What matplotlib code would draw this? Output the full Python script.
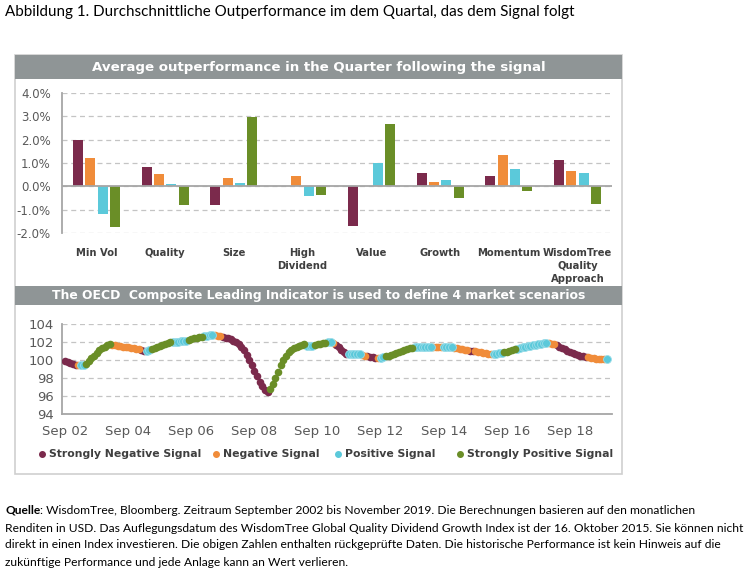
import matplotlib
matplotlib.use('Agg')
import matplotlib.pyplot as plt
from matplotlib.patches import Rectangle
from matplotlib.lines import Line2D
import numpy as np

W, H = 750, 583

# Balkendiagramm: durchschnittliche Outperformance (%)
factors = ['Min Vol', 'Quality', 'Size', 'High\nDividend', 'Value', 'Growth',
           'Momentum', 'WisdomTree\nQuality\nApproach']
signal_names = ['Strongly Negative Signal', 'Negative Signal',
                'Positive Signal', 'Strongly Positive Signal']
strong_neg = [2.00, 0.83, -0.78, 0.00, -1.68, 0.58, 0.44, 1.15]
neg = [1.23, 0.54, 0.36, 0.44, 0.00, 0.18, 1.35, 0.67]
pos = [-1.19, 0.11, 0.16, -0.43, 1.01, 0.28, 0.75, 0.58]
strong_pos = [-1.76, -0.82, 2.96, -0.38, 2.66, -0.51, -0.20, -0.77]

# OECD CLI, monatlich Sep 2002 - Nov 2019
cli = [
    99.9, 99.8, 99.7, 99.6, 99.5, 99.4, 99.4, 99.5, 99.6, 99.9, 100.2, 100.5,
    100.8, 101.1, 101.3, 101.5, 101.65, 101.75, 101.7, 101.65, 101.6, 101.55, 101.5, 101.45,
    101.4, 101.35, 101.3, 101.25, 101.2, 101.1, 101.0, 101.0, 101.1, 101.2, 101.35, 101.5,
    101.6, 101.7, 101.8, 101.9, 102.0, 102.0, 102.05, 102.05, 102.1, 102.1, 102.15, 102.2,
    102.3, 102.4, 102.5, 102.55, 102.6, 102.65, 102.7, 102.75, 102.8, 102.75, 102.7, 102.65,
    102.6, 102.5, 102.4, 102.3, 102.15, 102.0, 101.8, 101.5, 101.1, 100.6, 100.0, 99.4,
    98.8, 98.2, 97.6, 97.1, 96.7, 96.5, 96.8, 97.3, 98.0, 98.7, 99.4, 100.0,
    100.5, 100.9, 101.15, 101.35, 101.5, 101.6, 101.7, 101.75, 101.6, 101.55, 101.6, 101.7,
    101.75, 101.8, 101.85, 101.9, 101.95, 101.95, 101.85, 101.65, 101.4, 101.15, 100.9, 100.7,
    100.65, 100.65, 100.7, 100.7, 100.65, 100.6, 100.5, 100.45, 100.35, 100.3, 100.25, 100.2,
    100.25, 100.3, 100.4, 100.5, 100.6, 100.7, 100.8, 100.9, 101.0, 101.1, 101.2, 101.3,
    101.35, 101.4, 101.4, 101.4, 101.4, 101.4, 101.4, 101.4, 101.4, 101.4, 101.4, 101.4,
    101.4, 101.4, 101.4, 101.4, 101.35, 101.3, 101.25, 101.2, 101.15, 101.1, 101.05, 101.0,
    100.95, 100.9, 100.85, 100.8, 100.75, 100.7, 100.7, 100.7, 100.7, 100.75, 100.8, 100.85,
    100.9, 101.0, 101.1, 101.2, 101.25, 101.35, 101.4, 101.5, 101.55, 101.6, 101.65, 101.7,
    101.75, 101.8, 101.85, 101.9, 101.85, 101.8, 101.75, 101.65, 101.5, 101.35, 101.2, 101.05,
    100.9, 100.75, 100.65, 100.55, 100.45, 100.4, 100.35, 100.3, 100.25, 100.2, 100.15, 100.15,
    100.1, 100.1, 100.1,
]
# Signal je Monat: a=stark negativ, b=negativ, c=positiv, d=stark positiv
cli_signal = (
    'aaaaabccdddd' 'ddddddbbbbbb' 'bbbbbaaccddd' 'dddddccccccd'
    'dddddccccbbb' 'aaaaaaaaaaaa' 'aaaaaadddddd' 'ddddddddcccd'
    'ddddccbaaaaa' 'cccccbbaaaab' 'ccdddddddddd' 'dcccccccbbbb'
    'ccccbbbbbbaa' 'bbbbbbbccccd' 'ddddcccccccc' 'ccccbbbaaaaa'
    'aaaaaaabbbbb' 'bbc'
)
xtick_labels = ['Sep 02', 'Sep 04', 'Sep 06', 'Sep 08', 'Sep 10',
                'Sep 12', 'Sep 14', 'Sep 16', 'Sep 18']

colors = ['#7B2A4C', '#F08C3A', '#5BC9DA', '#6A8E27']
grey_txt = '#595959'
dark_txt = '#3F3F3F'
grid_c = '#C4C4C4'
axis_c = '#A6A6A6'
hdr_c = '#8F9596'
chart_font = 'DejaVu Sans'
doc_font = 'Lato'


def fx(x):
    return x / W


def fy(y):
    return 1 - y / H


fig = plt.figure(figsize=(W / 100, H / 100), dpi=100)
fig.patch.set_facecolor('white')
renderer = fig.canvas.get_renderer()


def fit(t, width_px):
    # Schriftgroesse so setzen, dass der Text die Breite aus dem Vorbild hat
    w = t.get_window_extent(renderer).width
    t.set_fontsize(t.get_fontsize() * width_px / w)
    return t.get_fontsize()


# Rahmen und Titelbalken
fig.add_artist(Rectangle((fx(15), fy(474)), 607 / W, 419 / H, transform=fig.transFigure,
                         facecolor='none', edgecolor='#CFCFCF', lw=1.2))
headers = [(55, 79, 'Average outperformance in the Quarter following the signal', 456),
           (286, 305, 'The OECD  Composite Leading Indicator is used to define 4 market scenarios', 535)]
for y0, y1, txt, tw in headers:
    fig.add_artist(Rectangle((fx(15), fy(y1)), 607 / W, (y1 - y0) / H,
                             transform=fig.transFigure, color=hdr_c, lw=0))
    t = fig.text(fx(319), fy((y0 + y1) / 2), txt, color='white', fontsize=10,
                 fontweight='bold', family=chart_font, ha='center', va='center')
    fit(t, tw)

# --- Balken ---
ax1 = fig.add_axes([fx(62), fy(233), 550 / W, 140 / H])
x = np.arange(len(factors))
series = [strong_neg, neg, pos, strong_pos]
for k, vals in enumerate(series):
    ax1.bar(x + (k - 1.5) * 0.18, vals, width=0.145, color=colors[k], lw=0, zorder=3)
ax1.set_xlim(-0.5, len(factors) - 0.5)
ax1.set_ylim(-2, 4)
ax1.set_yticks(np.arange(-2, 4.01, 1))
ax1.set_yticklabels(['%.1f%%' % v for v in np.arange(-2, 4.01, 1)])
ax1.set_xticks(x)
ax1.set_xticklabels(factors, fontsize=7.2, color=dark_txt, fontweight='bold',
                    family=chart_font, linespacing=1.35)
ax1.tick_params(axis='x', length=0, pad=11)
ax1.tick_params(axis='y', length=0, pad=8, labelsize=8.5, labelcolor=grey_txt)
for lab in ax1.get_yticklabels():
    lab.set_family(chart_font)
ax1.grid(axis='y', color=grid_c, lw=0.9, linestyle=(0, (4, 3)), zorder=0)
ax1.axhline(0, color=axis_c, lw=1.3, zorder=4)
for s in ['top', 'right', 'bottom']:
    ax1.spines[s].set_visible(False)
ax1.spines['left'].set_color(axis_c)
ax1.spines['left'].set_linewidth(1.3)

# --- OECD CLI ---
ax2 = fig.add_axes([fx(62), fy(414), 550 / W, 90 / H])
months = np.arange(len(cli))
cli_arr = np.array(cli)
sig = np.array(list(cli_signal))
for code, k in [('a', 0), ('b', 1), ('d', 3), ('c', 2)]:
    m = sig == code
    if code == 'c':
        ax2.scatter(months[m], cli_arr[m], s=32, color=colors[k], edgecolors='#9ADDE9',
                    linewidths=0.6, zorder=3 + k)
    else:
        ax2.scatter(months[m], cli_arr[m], s=30, color=colors[k], lw=0, zorder=3 + k)
ax2.set_xlim(-1.2, 208)
ax2.set_ylim(94, 104)
ax2.set_yticks(np.arange(94, 104.1, 2))
ax2.set_xticks(np.arange(0, 193, 24))
ax2.set_xticklabels(xtick_labels)
ax2.tick_params(length=0, labelsize=9.5, labelcolor=grey_txt)
ax2.tick_params(axis='x', pad=8)
ax2.tick_params(axis='y', pad=6)
for lab in ax2.get_xticklabels() + ax2.get_yticklabels():
    lab.set_family(chart_font)
ax2.grid(axis='y', color=grid_c, lw=0.9, linestyle=(0, (4, 3)), zorder=0)
for s in ['top', 'right']:
    ax2.spines[s].set_visible(False)
for s in ['left', 'bottom']:
    ax2.spines[s].set_color(axis_c)
    ax2.spines[s].set_linewidth(1.3)

# Legende
leg_x = [42, 216, 338, 460]
leg_fs = None
for k, name in enumerate(signal_names):
    fig.add_artist(Line2D([fx(leg_x[k])], [fy(454)], transform=fig.transFigure,
                          marker='o', markersize=4, color=colors[k], lw=0))
    t = fig.text(fx(leg_x[k] + 7), fy(454), name, fontsize=9, fontweight='bold', color=dark_txt,
                 family=chart_font, ha='left', va='center')
    if leg_fs is None:
        leg_fs = fit(t, 152)
    else:
        t.set_fontsize(leg_fs)

# Ueberschrift
t = fig.text(fx(5), fy(12), 'Abbildung 1. Durchschnittliche Outperformance im dem Quartal, das dem Signal folgt',
             fontsize=10.5, color='black', family=doc_font, ha='left', va='center')
fit(t, 573)

# Fussnote
foot = [
    ': WisdomTree, Bloomberg. Zeitraum September 2002 bis November 2019. Die Berechnungen basieren auf den monatlichen',
    'Renditen in USD. Das Auflegungsdatum des WisdomTree Global Quality Dividend Growth Index ist der 16. Oktober 2015. Sie können nicht',
    'direkt in einen Index investieren. Die obigen Zahlen enthalten rückgeprüfte Daten. Die historische Performance ist kein Hinweis auf die',
    'zukünftige Performance und jede Anlage kann an Wert verlieren.',
]
foot_y = [510, 528, 545, 563]
t2 = fig.text(fx(5), fy(foot_y[1]), foot[1], fontsize=8.7, family=doc_font, ha='left', va='center')
fs = fit(t2, 736)
q = fig.text(fx(5), fy(foot_y[0]), 'Quelle', fontsize=fs, fontweight='bold', family=doc_font,
             ha='left', va='center')
qw = q.get_window_extent(renderer).width
fig.text(fx(5 + qw), fy(foot_y[0]), foot[0], fontsize=fs, family=doc_font, ha='left', va='center')
for line, yy in zip(foot[2:], foot_y[2:]):
    fig.text(fx(5), fy(yy), line, fontsize=fs, family=doc_font, ha='left', va='center')

fig.savefig('out.png', dpi=100, facecolor='white')
